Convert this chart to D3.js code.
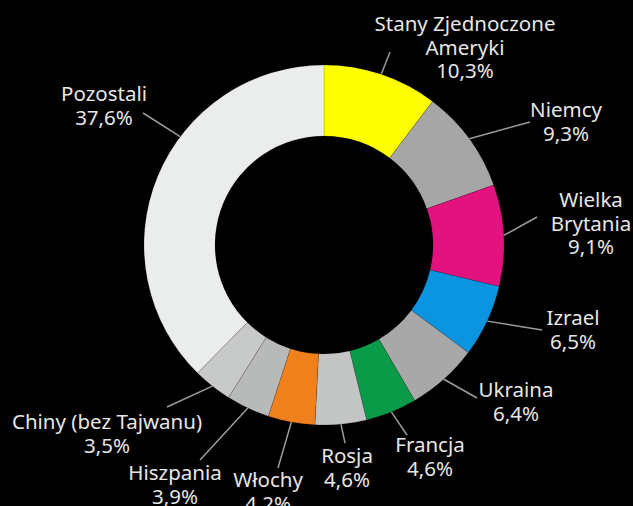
<!DOCTYPE html>
<html>
  <head>
    <meta charset="utf-8">
    <title>Udział krajów</title>
    <script src="https://cdn.jsdelivr.net/npm/d3@7"></script>
    <style>
      html, body { margin: 0; padding: 0; background: #000; }
      svg { display: block; }
      .label text { fill: #e6e6e6; font-family: "Noto Sans", sans-serif; font-size: 20.5px; text-anchor: middle; }
      .leader { stroke: #9c9c9c; stroke-width: 1.5; fill: none; }
    </style>
  </head>
  <body>
    <svg id="chart" width="633" height="506"></svg>

    <script>
      // data
      countries = ["Stany Zjednoczone Ameryki", "Niemcy", "Wielka Brytania", "Izrael", "Ukraina",
        "Francja", "Rosja", "Włochy", "Hiszpania", "Chiny (bez Tajwanu)", "Pozostali"];
      shares = [10.3, 9.3, 9.1, 6.5, 6.4, 4.6, 4.6, 4.2, 3.9, 3.5, 37.6];
      labelLines = [["Stany Zjednoczone", "Ameryki"], ["Niemcy"], ["Wielka", "Brytania"], ["Izrael"], ["Ukraina"],
        ["Francja"], ["Rosja"], ["Włochy"], ["Hiszpania"], ["Chiny (bez Tajwanu)"], ["Pozostali"]];
      colours = ["#ffff00", "#a6a6a6", "#e2137f", "#0b95e0", "#a8a8a8",
        "#0a9b48", "#c3c4c4", "#f0801c", "#b8b9b9", "#c8c9c9", "#ebecec"];

      // label layout, relative to the centre: leader end point and text anchor (first baseline)
      labelLayout = [
        { end: [66, -193], text: [141, -214] },
        { end: [206, -123], text: [242, -128] },
        { end: [213, -28], text: [267, -38] },
        { end: [218, 85], text: [249, 80] },
        { end: [153, 153], text: [192, 152] },
        { end: [83, 190], text: [106, 207] },
        { end: [21, 198], text: [23, 218] },
        { end: [-46, 223], text: [-56, 242] },
        { end: [-124, 215], text: [-149, 235] },
        { end: [-157, 162], text: [-217, 184] },
        { end: [-181, -132], text: [-220, -144], angle: 307 }
      ];

      cx = 324;
      cy = 245;
      outer = 180;
      inner = 109;
      lineHeight = 23.5;

      svg = d3.select("#chart");
      g = svg.append("g")
        .attr("transform", "translate(" + cx + "," + cy + ")");

      pie = d3.pie()
        .value(function(d) { return d; })
        .sort(null);

      arc = d3.arc()
        .innerRadius(inner)
        .outerRadius(outer);

      slices = pie(shares);

      g.selectAll(".slice")
          .data(slices)
        .enter().append("path")
          .classed("slice", true)
          .attr("d", arc)
          .style("fill", function(d, i) { return colours[i]; })
          .style("stroke", "rgba(0,0,0,0.18)")
          .style("stroke-width", 0.8);

      labels = g.selectAll(".label")
          .data(slices)
        .enter().append("g")
          .classed("label", true);

      labels.append("line")
        .classed("leader", true)
        .each(function(d, i) {
          let lay = labelLayout[i];
          let a = lay.angle !== undefined ? lay.angle * Math.PI / 180 : (d.startAngle + d.endAngle) / 2;
          d3.select(this)
            .attr("x1", Math.sin(a) * outer)
            .attr("y1", -Math.cos(a) * outer)
            .attr("x2", lay.end[0])
            .attr("y2", lay.end[1]);
        });

      labels.append("text")
        .attr("x", function(d, i) { return labelLayout[i].text[0]; })
        .attr("y", function(d, i) { return labelLayout[i].text[1]; })
        .each(function(d, i) {
          let rows = labelLines[i].concat([d3.format(".1f")(shares[i]).replace(".", ",") + "%"]);
          let x = labelLayout[i].text[0];
          d3.select(this).selectAll("tspan")
              .data(rows)
            .enter().append("tspan")
              .attr("x", x)
              .attr("dy", function(r, j) { return j == 0 ? 0 : lineHeight; })
              .text(function(r) { return r; });
        });
    </script>
  </body>
</html>
